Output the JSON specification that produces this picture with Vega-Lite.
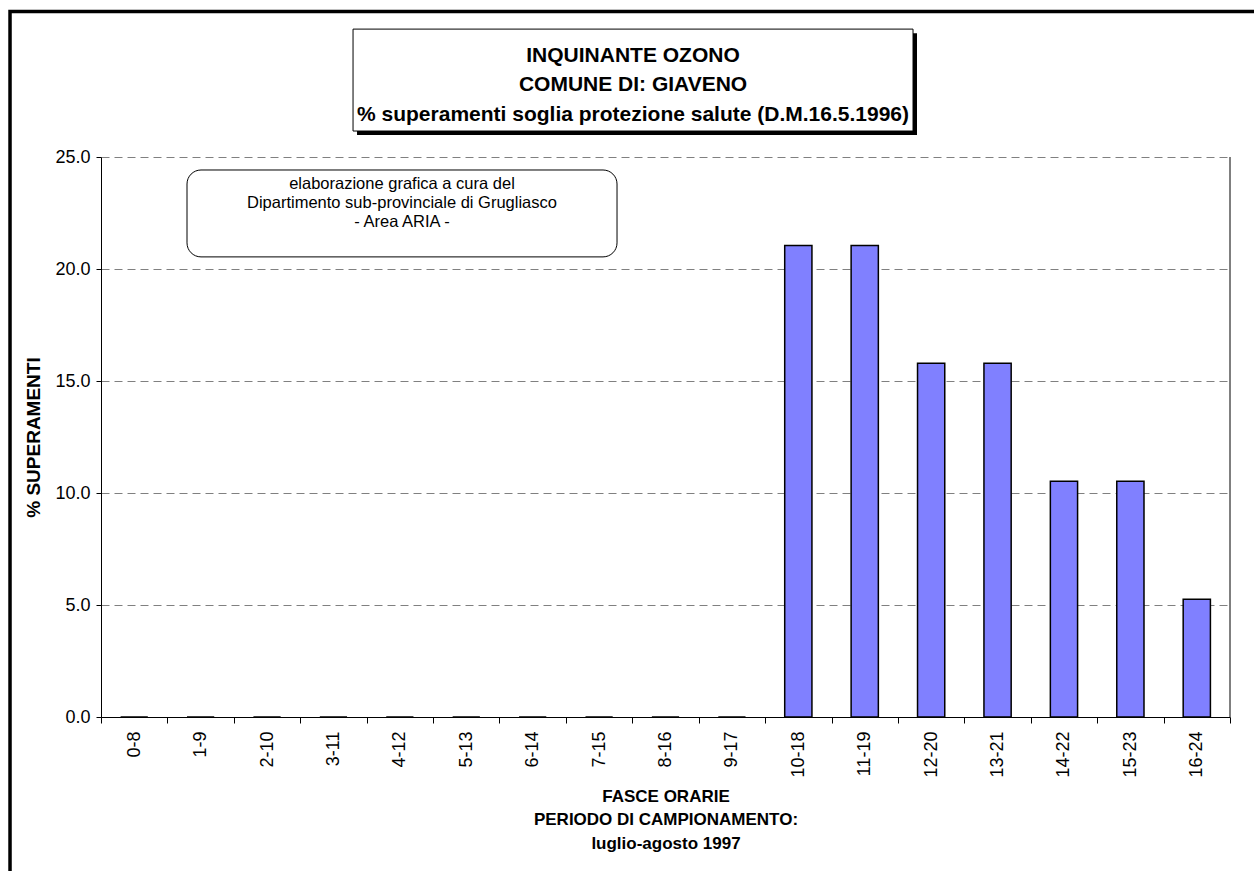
{
  "$schema": "https://vega.github.io/schema/vega-lite/v6.json",
  "width": 1129,
  "height": 560,
  "autosize": "none",
  "padding": {"left": 101, "top": 157, "right": 24, "bottom": 154},
  "background": "white",
  "config": {
    "view": {"stroke": null},
    "font": "Liberation Sans",
    "text": {"font": "Liberation Sans"}
  },
  "data": {
    "values": [
      {"fascia": "0-8", "pct": 0},
      {"fascia": "1-9", "pct": 0},
      {"fascia": "2-10", "pct": 0},
      {"fascia": "3-11", "pct": 0},
      {"fascia": "4-12", "pct": 0},
      {"fascia": "5-13", "pct": 0},
      {"fascia": "6-14", "pct": 0},
      {"fascia": "7-15", "pct": 0},
      {"fascia": "8-16", "pct": 0},
      {"fascia": "9-17", "pct": 0},
      {"fascia": "10-18", "pct": 21.05},
      {"fascia": "11-19", "pct": 21.05},
      {"fascia": "12-20", "pct": 15.79},
      {"fascia": "13-21", "pct": 15.79},
      {"fascia": "14-22", "pct": 10.53},
      {"fascia": "15-23", "pct": 10.53},
      {"fascia": "16-24", "pct": 5.26}
    ]
  },
  "layer": [
    {
      "mark": {"type": "bar", "fill": "#8080FF", "stroke": "#000000", "strokeWidth": 1.5, "width": {"band": 0.41}},
      "encoding": {
        "x": {
          "field": "fascia", "type": "nominal", "sort": null,
          "scale": {"paddingInner": 0, "paddingOuter": 0},
          "axis": {
            "title": ["FASCE ORARIE", "PERIODO DI CAMPIONAMENTO:", "luglio-agosto 1997"],
            "titleFontWeight": "bold", "titleFontSize": 17, "titleLineHeight": 23.5, "titleColor": "#000000",
            "titlePadding": 11,
            "labelAngle": 270, "labelFontSize": 18, "labelColor": "#000000", "labelPadding": 8,
            "tickBand": "extent", "tickSize": 6, "tickColor": "#000000",
            "domainColor": "#000000", "domainWidth": 1, "grid": false
          }
        },
        "y": {
          "field": "pct", "type": "quantitative",
          "scale": {"domain": [0, 25], "nice": false},
          "axis": {
            "title": "% SUPERAMENTI",
            "titleFontWeight": "bold", "titleFontSize": 19, "titleColor": "#000000", "titlePadding": 11,
            "values": [0, 5, 10, 15, 20, 25], "format": ".1f",
            "labelFontSize": 18, "labelColor": "#000000", "labelPadding": 6,
            "tickSize": 5, "tickColor": "#000000",
            "domainColor": "#000000", "domainWidth": 1,
            "grid": true, "gridColor": "#808080", "gridDash": [8, 5], "gridWidth": 1
          }
        }
      }
    },
    {
      "data": {"values": [{}]},
      "mark": {"type": "rule", "color": "#000000", "strokeWidth": 1},
      "encoding": {
        "x": {"datum": 17, "type": "quantitative", "scale": {"domain": [0, 17], "nice": false, "zero": false}, "axis": null},
        "y": {"datum": 0, "type": "quantitative", "scale": {"domain": [0, 25], "nice": false}, "axis": null},
        "y2": {"datum": 25}
      }
    },
    {
      "data": {"values": [{}]},
      "mark": {"type": "rect", "fill": null, "fillOpacity": 0, "stroke": "#000000", "strokeWidth": 3.5},
      "encoding": {
        "x": {"datum": -1.37, "type": "quantitative", "scale": {"domain": [0, 17], "nice": false, "zero": false}, "axis": null},
        "x2": {"datum": 20},
        "y": {"datum": 31.5, "type": "quantitative", "scale": {"domain": [0, 25], "nice": false}, "axis": null},
        "y2": {"datum": -12}
      }
    },
    {
      "data": {"values": [{}]},
      "mark": {"type": "rect", "fill": "#000000"},
      "encoding": {
        "x": {"datum": 3.855, "type": "quantitative", "scale": {"domain": [0, 17], "nice": false, "zero": false}, "axis": null},
        "x2": {"datum": 12.287},
        "y": {"datum": 30.53, "type": "quantitative", "scale": {"domain": [0, 25], "nice": false}, "axis": null},
        "y2": {"datum": 25.98}
      }
    },
    {
      "data": {"values": [{}]},
      "mark": {"type": "rect", "fill": "#FFFFFF", "stroke": "#000000", "strokeWidth": 1},
      "encoding": {
        "x": {"datum": 3.795, "type": "quantitative", "scale": {"domain": [0, 17], "nice": false, "zero": false}, "axis": null},
        "x2": {"datum": 12.227},
        "y": {"datum": 30.71, "type": "quantitative", "scale": {"domain": [0, 25], "nice": false}, "axis": null},
        "y2": {"datum": 26.16}
      }
    },
    {
      "data": {"values": [{}]},
      "mark": {
        "type": "text", "font": "Liberation Sans", "fontWeight": "bold", "fontSize": 21, "lineHeight": 29.5,
        "align": "center", "baseline": "middle", "color": "#000000",
        "text": ["INQUINANTE OZONO", "COMUNE DI: GIAVENO", "% superamenti soglia protezione salute (D.M.16.5.1996)"]
      },
      "encoding": {
        "x": {"datum": 8.011, "type": "quantitative", "scale": {"domain": [0, 17], "nice": false, "zero": false}, "axis": null},
        "y": {"datum": 29.51, "type": "quantitative", "scale": {"domain": [0, 25], "nice": false}, "axis": null}
      }
    },
    {
      "data": {"values": [{}]},
      "mark": {"type": "rect", "fill": "#FFFFFF", "stroke": "#000000", "strokeWidth": 1, "cornerRadius": 14},
      "encoding": {
        "x": {"datum": 1.295, "type": "quantitative", "scale": {"domain": [0, 17], "nice": false, "zero": false}, "axis": null},
        "x2": {"datum": 7.77},
        "y": {"datum": 24.42, "type": "quantitative", "scale": {"domain": [0, 25], "nice": false}, "axis": null},
        "y2": {"datum": 20.54}
      }
    },
    {
      "data": {"values": [{}]},
      "mark": {
        "type": "text", "font": "Liberation Sans", "fontSize": 16.5, "lineHeight": 19,
        "align": "center", "baseline": "middle", "color": "#000000",
        "text": ["elaborazione grafica a cura del", "Dipartimento sub-provinciale di Grugliasco", "- Area ARIA -"]
      },
      "encoding": {
        "x": {"datum": 4.532, "type": "quantitative", "scale": {"domain": [0, 17], "nice": false, "zero": false}, "axis": null},
        "y": {"datum": 23.795, "type": "quantitative", "scale": {"domain": [0, 25], "nice": false}, "axis": null}
      }
    }
  ],
  "resolve": {"scale": {"x": "independent", "y": "independent"}}
}
